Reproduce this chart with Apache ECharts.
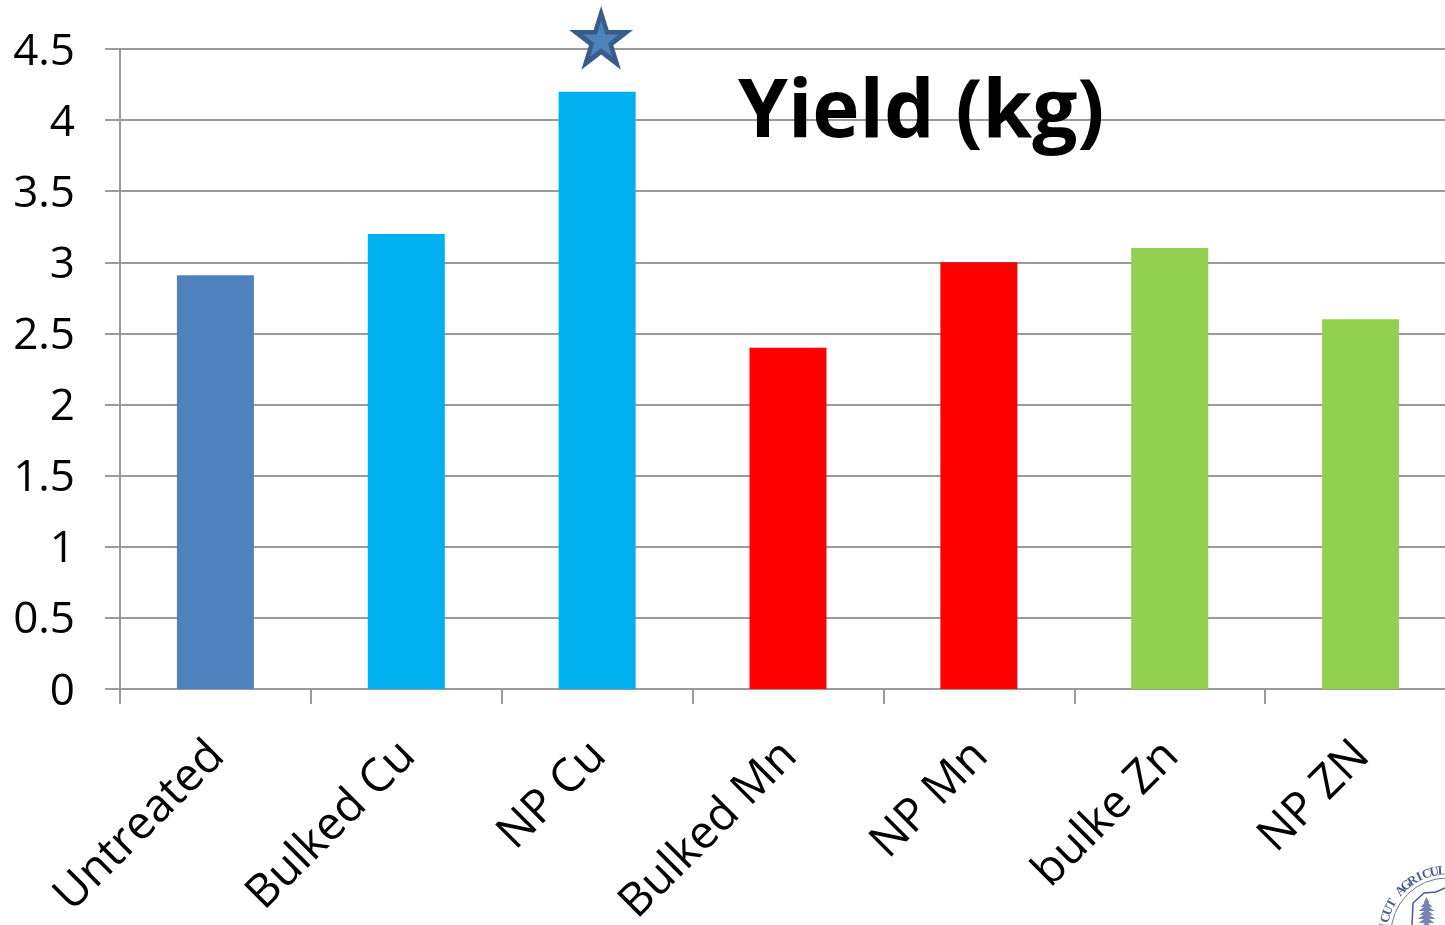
<!DOCTYPE html>
<html>
<head>
<meta charset="utf-8">
<style>html,body{margin:0;padding:0;background:#fff;overflow:hidden}#chart{width:1445px;height:925px}</style>
<script src="https://cdn.jsdelivr.net/npm/echarts@6/dist/echarts.min.js"></script>
</head>
<body>
<div id="chart"></div>
<script>
const categories = ['Untreated', 'Bulked Cu', 'NP Cu', 'Bulked Mn', 'NP Mn', 'bulke Zn', 'NP ZN'];
const yieldKg = [2.91, 3.2, 4.2, 2.4, 3, 3.1, 2.6];
const barColors = ['#4f81bd', '#00b0f0', '#00b0f0', '#ff0000', '#ff0000', '#92d050', '#92d050'];
const starred = 'NP Cu';
const titleText = 'Yield (kg)';
const sealText = 'CTICUT AGRICULTURAL';

const font = '"Open Sans", "Noto Sans", sans-serif';
const axisGrey = '#9a9a9a';
const starPath = 'path://M50 0 L61.8 36.3 L100 36.3 L69.1 58.8 L80.9 95.1 L50 72.6 L19.1 95.1 L30.9 58.8 L0 36.3 L38.2 36.3 Z';

// Institutional seal clipped by the lower right corner of the slide
const sealCx = 1447, sealCy = 934, sealR = 63;
const sealInk = '#2f3f78';
const sealLetters = Array.from(sealText).map((ch, i) => {
  const deg = -137 + (i - 7) * 7.1;
  const rad = deg * Math.PI / 180;
  return {
    type: 'text',
    x: sealCx + sealR * Math.cos(rad),
    y: sealCy + sealR * Math.sin(rad),
    rotation: -(deg + 90) * Math.PI / 180,
    style: { text: ch, font: 'bold 13px "Liberation Serif", serif', fill: sealInk, align: 'center', verticalAlign: 'middle', opacity: 0.85 }
  };
});
const sealTree = [[900, 3], [904, 6], [908, 8], [912, 7], [916, 9], [920, 8], [924, 5]].map(([y, half]) => ({
  type: 'polygon',
  shape: { points: [[1426.5, y - 3], [1426.5 + half, y + 3], [1426.5 - half, y + 3]] },
  style: { fill: '#7784b0' }
}));

const chart = echarts.init(document.getElementById('chart'), null, { renderer: 'canvas' });
chart.setOption({
  animation: false,
  backgroundColor: '#fff',
  title: {
    text: titleText,
    left: 733, top: 69,
    textStyle: { fontFamily: font, fontWeight: 'bold', fontSize: 80, color: '#000' }
  },
  grid: { left: 120, top: 49, width: 1336, height: 640, outerBoundsMode: 'none' },
  xAxis: {
    type: 'category',
    data: categories,
    axisLine: { lineStyle: { color: axisGrey, width: 2 } },
    axisTick: { show: true, alignWithLabel: false, length: 15, lineStyle: { color: axisGrey, width: 2 } },
    axisLabel: {
      interval: 0, rotate: 45, margin: 58, hideOverlap: false,
      formatter: (name) => `{cat|${name}}`,
      rich: { cat: { fontFamily: font, fontSize: 46, color: '#000', padding: [5, 0, 0, 0] } }
    }
  },
  yAxis: {
    type: 'value',
    min: 0, max: 4.5, interval: 0.5,
    axisLine: { show: true, lineStyle: { color: axisGrey, width: 2 } },
    axisTick: { show: true, length: 15, lineStyle: { color: axisGrey, width: 2 } },
    splitLine: { lineStyle: { color: axisGrey, width: 2 } },
    axisLabel: {
      margin: 45,
      formatter: (v) => `{num|${v}}`,
      rich: { num: { fontFamily: font, fontSize: 44, color: '#000', padding: [6, 0, 0, 0] } }
    }
  },
  series: [{
    type: 'bar',
    barWidth: 77,
    data: yieldKg.map((v, i) => ({ value: v, itemStyle: { color: barColors[i] } })),
    markPoint: {
      silent: true,
      label: { show: false },
      data: [
        { coord: [starred, yieldKg[categories.indexOf(starred)]], symbol: starPath, symbolSize: 64, symbolOffset: [4, -54], itemStyle: { color: '#385d8a' } },
        { coord: [starred, yieldKg[categories.indexOf(starred)]], symbol: starPath, symbolSize: 36, symbolOffset: [4, -53], itemStyle: { color: '#4f81bd' } }
      ]
    }
  }],
  graphic: [
    { type: 'circle', shape: { cx: sealCx, cy: sealCy, r: 56 }, style: { fill: 'none', stroke: '#6a78a8', lineWidth: 1 } },
    { type: 'polyline', shape: { points: [[1412, 925], [1413, 903], [1424, 893], [1436, 892], [1445, 888]] }, style: { fill: 'none', stroke: '#4a5a90', lineWidth: 1.5 } }
  ].concat(sealTree, sealLetters)
});
</script>
</body>
</html>
